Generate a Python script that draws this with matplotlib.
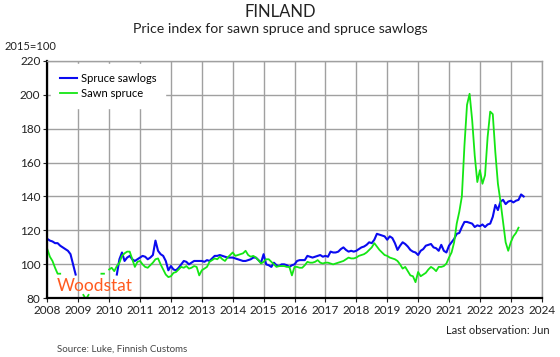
import numpy as np
import matplotlib
matplotlib.use("Agg")
import matplotlib.pyplot as plt

plt.rcParams['font.family'] = ['Lato', 'DejaVu Sans']

nan = np.nan

# monthly index values, 2015=100, starting Jan 2008
start_year = 2008

sawlogs = [
    115, 114, 113.5, 112.5, 112.5, 111, 110, 109, 108, 106, 100, 94,           # 2008
    nan, nan, nan, nan, nan, nan, nan, nan, nan, nan, nan, nan,                # 2009
    nan, nan, nan, 94, 103, 107, 102, 104, 105, 103, 102, 103,                 # 2010
    104, 105, 104.5, 103, 104, 105.5, 114, 108, 106, 105, 102, 96.5,           # 2011
    99, 97, 96.5, 98, 100, 102, 101.5, 100, 101, 102, 102, 102,                # 2012
    102, 101.5, 102.5, 102, 103.5, 105, 105, 105.5, 105, 104.5, 104, 104,      # 2013
    104, 103.5, 103, 102.5, 102, 102, 102.5, 103, 104, 104, 102.5, 101,        # 2014
    106, 100, 99.5, 98.5, 101, 99.5, 99, 100, 100, 99.5, 98.5, 99.5,           # 2015
    100, 102, 102.5, 102.5, 102.5, 105, 104.5, 104, 104.5, 105, 105.5, 104.5,  # 2016
    105, 104.5, 107.5, 107, 107, 107.5, 109, 110, 108.5, 107.5, 108, 107.5,    # 2017
    108, 109, 110, 110.5, 111.5, 113, 112.5, 114.5, 118, 117.5, 117, 116.5,    # 2018
    114.5, 116.5, 115.5, 112.5, 108.5, 111, 113, 112, 110.5, 108.5, 107.5, 107,  # 2019
    105.5, 108, 109, 111, 111.5, 112, 110, 109.5, 108, 111.5, 108, 107,        # 2020
    111, 113, 115, 118, 118.5, 122, 125, 125, 124.5, 124, 122, 123,            # 2021
    122.5, 123.5, 122, 123.5, 124, 128, 135, 132, 137, 138, 135.5, 137,        # 2022
    137.5, 136.5, 137.5, 138, 141.2, 140,                                      # 2023
]

sawn = [
    109, 104.5, 102, 98, 94.5, 94.5, nan, nan, nan, nan, nan, nan,             # 2008
    nan, nan, 82, 79.5, 82, nan, nan, nan, nan, 94.5, 94.5, nan,               # 2009
    97, 98, 96, 99, 101, 105, 106.5, 107.5, 107.5, 103, 98.5, 101.5,           # 2010
    102, 100, 98.5, 98, 99.5, 101, 103, 103.5, 100, 97, 94, 92.5,              # 2011
    93, 95, 95.5, 97, 98.5, 98, 99, 97.5, 98, 99, 98.5, 93.5,                  # 2012
    96.5, 97.5, 98.5, 101.5, 102.5, 103.5, 103, 104.5, 103, 102, 104, 105.5,   # 2013
    107, 105, 105.5, 106, 106.5, 108, 105.5, 104.5, 105, 104, 102.5, 100.5,    # 2014
    101.5, 103, 103, 101.5, 100, 98.5, 99, 99, 99, 98.5, 98.5, 93.5,           # 2015
    98.5, 98.5, 98, 98, 99.5, 101.5, 101, 101, 101.5, 102.5, 101, 100.5,       # 2016
    101, 101, 100.5, 100, 100.5, 101, 101.5, 102, 103, 104, 103.5, 103.5,      # 2017
    104, 105, 105.5, 106, 107, 108.5, 110, 112.5, 110.5, 108.5, 107, 105.5,    # 2018
    105, 104, 103.5, 103, 102, 100, 97.5, 98.5, 96, 93.5, 93, 89.5,            # 2019
    95.5, 93, 94, 95, 97, 98.5, 97.5, 96, 98.5, 98.5, 99, 100.5,               # 2020
    104, 107, 113, 124, 131, 140, 170, 194, 200.5, 185, 164, 148.5,            # 2021
    155.5, 147.5, 152.5, 175, 190, 188.5, 166, 147.5, 137, 125, 113, 108,      # 2022
    113, 116.5, 118.5, 121.6,                                                  # 2023
]

x_sawlogs = start_year + np.arange(len(sawlogs)) / 12
x_sawn = start_year + np.arange(len(sawn)) / 12

fig = plt.figure(figsize=(5.6, 3.57), dpi=100)
ax = fig.add_axes([0.0845, 0.1644, 0.8828, 0.6656])

ax.plot(x_sawlogs, sawlogs, color="#0a0af0", lw=1.5, label="Spruce sawlogs")
ax.plot(x_sawn, sawn, color="#14e614", lw=1.3, label="Sawn spruce")

ax.set_xlim(2008, 2024)
ax.set_ylim(80, 220)
ax.set_xticks(range(2008, 2025))
ax.set_yticks(range(80, 221, 20))
ax.tick_params(axis="both", labelsize=8.5, length=3, width=0.8, pad=2,
               colors="#222222")
ax.grid(color="#a0a0a0", lw=1)
ax.set_axisbelow(True)

for s in ["top", "right"]:
    ax.spines[s].set_color("#a0a0a0")
    ax.spines[s].set_linewidth(1)
for s in ["left", "bottom"]:
    ax.spines[s].set_color("black")
    ax.spines[s].set_linewidth(1.6)

leg = ax.legend(loc="upper left", bbox_to_anchor=(0.0, 1.0), fontsize=8,
                frameon=True, facecolor="white", edgecolor="white",
                framealpha=1, fancybox=False, handlelength=1.6,
                handletextpad=0.3, borderpad=0.8, labelspacing=0.35,
                borderaxespad=0.3)

fig.text(0.5, 1 - 12 / 357, "FINLAND", ha="center", va="center",
         fontsize=12, color="#222222")
fig.text(0.5, 1 - 29 / 357, "Price index for sawn spruce and spruce sawlogs",
         ha="center", va="center", fontsize=10.2, color="#222222")
fig.text(5 / 560, 1 - 47 / 357, "2015=100", ha="left", va="center",
         fontsize=8, color="#222222")
fig.text(550 / 560, 1 - 331 / 357, "Last observation: Jun", ha="right",
         va="center", fontsize=8, color="#222222")
fig.text(57 / 560, 1 - 349 / 357, "Source: Luke, Finnish Customs", ha="left",
         va="center", fontsize=7, color="#444444")
fig.text(57 / 560, 1 - 286 / 357, "Woodstat", ha="left", va="center",
         fontsize=12.5, color="#ff5a1f")

fig.savefig("out.png", dpi=100)
